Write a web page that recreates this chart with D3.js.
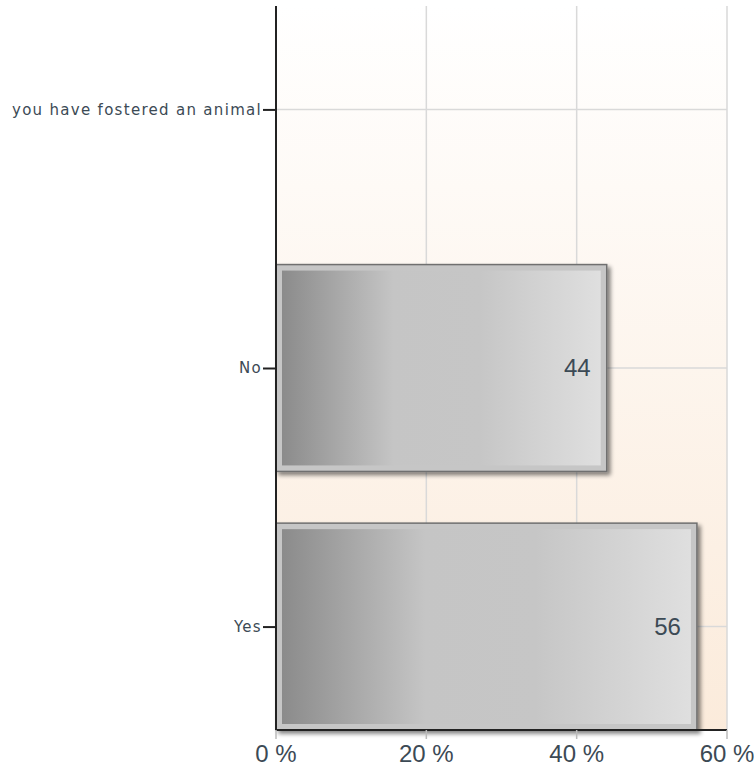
<!DOCTYPE html>
<html>
<head>
<meta charset="utf-8">
<script src="https://cdn.jsdelivr.net/npm/d3@7"></script>
<style>
  body { margin: 0; background: #fff; }
  text { font-family: "DejaVu Sans", Verdana, sans-serif; fill: #3c4a55; }
</style>
</head>
<body>
<script>
const categories = ['you have fostered an animal', 'No', 'Yes'];
const values = [null, 44, 56];
const xTicks = [0, 20, 40, 60];

const margin = { top: 6, right: 27, bottom: 43, left: 276 };
const width = 754 - margin.left - margin.right;
const height = 773 - margin.top - margin.bottom;

const data = categories.map((c, i) => ({ cat: c, value: values[i] }));

const svg = d3.select('body').append('svg')
  .attr('width', 754)
  .attr('height', 773);

const defs = svg.append('defs');

const bg = defs.append('linearGradient')
  .attr('id', 'bg').attr('x1', 0).attr('y1', 0).attr('x2', 0).attr('y2', 1);
bg.append('stop').attr('offset', 0).attr('stop-color', '#ffffff');
bg.append('stop').attr('offset', 1).attr('stop-color', '#fbebdb');

const barGrad = defs.append('linearGradient')
  .attr('id', 'bar').attr('x1', 0).attr('y1', 0).attr('x2', 1).attr('y2', 0);
[[0, '#8b8b8b'], [0.35, '#c5c5c5'], [0.62, '#c6c6c6'], [1, '#dfdfdf']].forEach(s => {
  barGrad.append('stop').attr('offset', s[0]).attr('stop-color', s[1]);
});

const shadow = defs.append('filter').attr('id', 'shadow')
  .attr('x', '-5%').attr('y', '-5%').attr('width', '115%').attr('height', '115%');
shadow.append('feGaussianBlur').attr('in', 'SourceAlpha').attr('stdDeviation', 2).attr('result', 'b');
shadow.append('feOffset').attr('in', 'b').attr('dx', 3).attr('dy', 3).attr('result', 'o');
shadow.append('feComponentTransfer').attr('in', 'o').attr('result', 'o2')
  .append('feFuncA').attr('type', 'linear').attr('slope', 0.5);
const merge = shadow.append('feMerge');
merge.append('feMergeNode').attr('in', 'o2');
merge.append('feMergeNode').attr('in', 'SourceGraphic');

const g = svg.append('g')
  .attr('transform', `translate(${margin.left},${margin.top})`);

const x = d3.scaleLinear().domain([0, 60]).range([0, width]);
const y = d3.scalePoint().domain(categories).range([0, height]).padding(0.4);
const barH = y.step() * 0.8;

// plot background
g.append('rect')
  .attr('width', width)
  .attr('height', height)
  .attr('fill', 'url(#bg)');

// grid
g.selectAll('.vgrid')
  .data(xTicks.slice(1))
  .enter().append('line')
  .attr('x1', d => x(d)).attr('x2', d => x(d))
  .attr('y1', 0).attr('y2', height)
  .attr('stroke', '#d9d9d9').attr('stroke-width', 1.5);

g.selectAll('.hgrid')
  .data(categories)
  .enter().append('line')
  .attr('x1', 0).attr('x2', width)
  .attr('y1', d => y(d)).attr('y2', d => y(d))
  .attr('stroke', '#d9d9d9').attr('stroke-width', 1.5);

// bars
const bars = g.selectAll('.bar')
  .data(data.filter(d => d.value != null))
  .enter().append('g')
  .attr('class', 'bar');

bars.append('rect')
  .attr('x', x(0))
  .attr('y', d => y(d.cat) - barH / 2)
  .attr('width', d => x(d.value) - x(0))
  .attr('height', barH)
  .attr('fill', '#c6c6c6')
  .attr('stroke', '#707070')
  .attr('stroke-width', 1.5)
  .attr('filter', 'url(#shadow)');

bars.append('rect')
  .attr('x', x(0) + 6)
  .attr('y', d => y(d.cat) - barH / 2 + 6)
  .attr('width', d => x(d.value) - x(0) - 12)
  .attr('height', barH - 12)
  .attr('fill', 'url(#bar)');

bars.append('text')
  .attr('x', d => x(d.value) - 16)
  .attr('y', d => y(d.cat))
  .attr('dy', '0.35em')
  .attr('text-anchor', 'end')
  .style('font-family', 'Arial, "Liberation Sans", sans-serif')
  .style('font-size', '24px')
  .text(d => d.value);

// x axis
const xAxis = g.append('g')
  .attr('transform', `translate(0,${height})`);
xAxis.append('line')
  .attr('x1', 0).attr('x2', width)
  .attr('stroke', '#222').attr('stroke-width', 2);
xAxis.selectAll('.tick')
  .data(xTicks)
  .enter().append('line')
  .attr('x1', d => x(d)).attr('x2', d => x(d))
  .attr('y1', 0).attr('y2', 9)
  .attr('stroke', '#bbb').attr('stroke-width', 1.5);
xAxis.selectAll('.lbl')
  .data(xTicks)
  .enter().append('text')
  .attr('x', d => x(d))
  .attr('y', 24)
  .attr('dy', '0.35em')
  .attr('text-anchor', 'middle')
  .style('font-family', 'Arial, "Liberation Sans", sans-serif')
  .style('font-size', '24px')
  .text(d => d + ' %');

// y axis
const yAxis = d3.axisLeft(y).tickSize(13).tickPadding(1);
const ya = g.append('g').call(yAxis);
ya.select('.domain').remove();
ya.selectAll('.tick line').attr('stroke', '#222').attr('stroke-width', 2);
ya.selectAll('.tick text')
  .style('font-family', '"DejaVu Sans", Verdana, sans-serif')
  .style('font-size', '15px')
  .style('letter-spacing', '1.3px')
  .attr('fill', '#3c4a55');
g.append('line')
  .attr('x1', 0).attr('x2', 0)
  .attr('y1', 0).attr('y2', height)
  .attr('stroke', '#222').attr('stroke-width', 2);
</script>
</body>
</html>
